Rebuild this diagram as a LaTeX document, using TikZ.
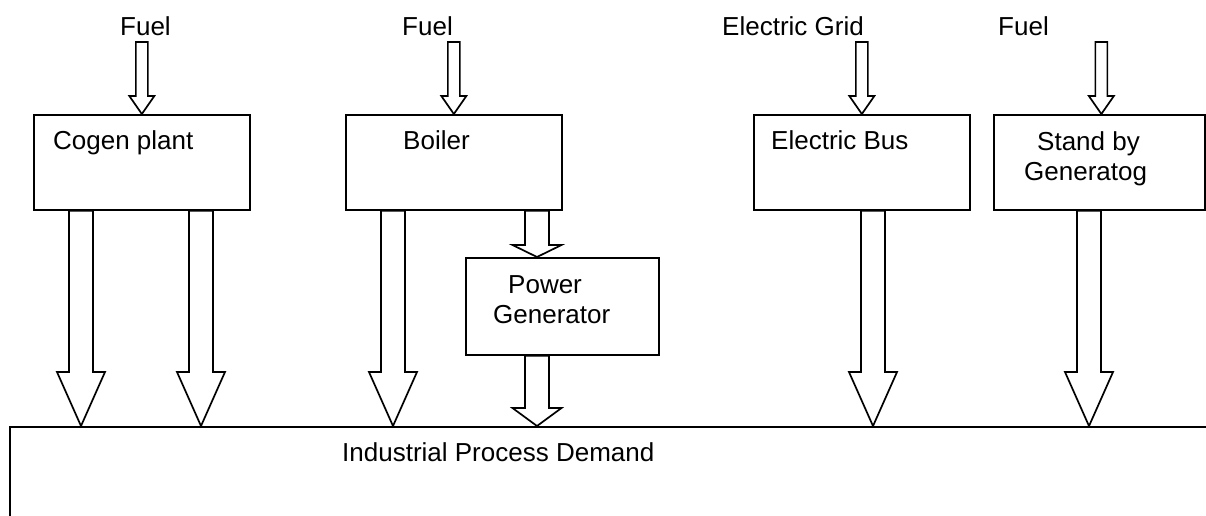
\documentclass[tikz,border=0pt]{standalone}
\usepackage{fontspec}
\setmainfont{Liberation Sans}
\usetikzlibrary{calc}
\tikzset{
  box/.style={draw, line width=1.7pt, rectangle, inner sep=0pt, anchor=north west},
  blk/.style={draw, line width=1.7pt, fill=white, line join=miter},
  lbl/.style={anchor=base west, inner sep=0pt, font=\fontsize{26}{30}\selectfont},
}
% #1 start (y used), #2 tip, #3 shaft width, #4 head width, #5 head length
\newcommand\blockarrow[5]{%
  \draw[blk] let \p1=#1, \p2=#2 in
    (\x2-0.5*#3pt,\y1) -- (\x2-0.5*#3pt,\y2+#5pt) -- (\x2-0.5*#4pt,\y2+#5pt) --
    (\x2,\y2) -- (\x2+0.5*#4pt,\y2+#5pt) -- (\x2+0.5*#3pt,\y2+#5pt) --
    (\x2+0.5*#3pt,\y1) -- cycle;}
\begin{document}
\begin{tikzpicture}[x=1pt,y=-1pt]
\useasboundingbox (0,0) rectangle (1206,515);
\clip (0,0) rectangle (1206,515);
% boxes
\node[box, minimum width=216pt, minimum height=95pt] (cogen) at (33,114) {};
\node[box, minimum width=216pt, minimum height=95pt] (boiler) at (345,114) {};
\node[box, minimum width=216pt, minimum height=95pt] (ebus) at (753,114) {};
\node[box, minimum width=211pt, minimum height=95pt] (standby) at (993,114) {};
\node[box, minimum width=193pt, minimum height=97pt] (pg) at (465,257) {};
\node[box, minimum width=1230pt, minimum height=120pt] (ipd) at (9,426) {};
% texts
\node[lbl] (f1) at (120,35) {Fuel};
\node[lbl] (f2) at (402,35) {Fuel};
\node[lbl] (grid) at (722,35) {Electric Grid};
\node[lbl] (f4) at (998,35) {Fuel};
\node[lbl] (tcogen) at (53,149) {Cogen plant};
\node[lbl] (tboiler) at (403,149) {Boiler};
\node[lbl] (tebus) at (771,149) {Electric Bus};
\node[lbl] (tsb1) at (1037,150) {Stand by};
\node[lbl] (tsb2) at (1024,180) {Generatog};
\node[lbl] (tpg1) at (508,293) {Power};
\node[lbl] (tpg2) at (493,323) {Generator};
\node[lbl] (tipd) at (342,461) {Industrial Process Demand};
% input arrows
\blockarrow{($(cogen.north)+(0,-72)$)}{(cogen.north)}{12}{25}{18}
\blockarrow{($(boiler.north)+(0,-72)$)}{(boiler.north)}{12}{25}{18}
\blockarrow{($(ebus.north)+(0,-72)$)}{(ebus.north)}{12}{25}{18}
\blockarrow{($(standby.north)+(0,-72)$)}{($(standby.north)+(2,0)$)}{12}{25}{18}
% output arrows
\blockarrow{(cogen.south)}{($(ipd.north west)+(72,0)$)}{24}{48}{54}
\blockarrow{(cogen.south)}{($(ipd.north west)+(192,0)$)}{24}{48}{54}
\blockarrow{(boiler.south)}{($(ipd.north west)+(384,0)$)}{24}{48}{54}
\blockarrow{(boiler.south)}{($(pg.north west)+(72,0)$)}{24}{49}{12}
\blockarrow{(pg.south)}{($(ipd.north west)+(528,0)$)}{24}{49}{18}
\blockarrow{(ebus.south)}{($(ipd.north west)+(864,0)$)}{24}{48}{54}
\blockarrow{(standby.south)}{($(ipd.north west)+(1080,0)$)}{24}{48}{54}
\end{tikzpicture}
\end{document}
